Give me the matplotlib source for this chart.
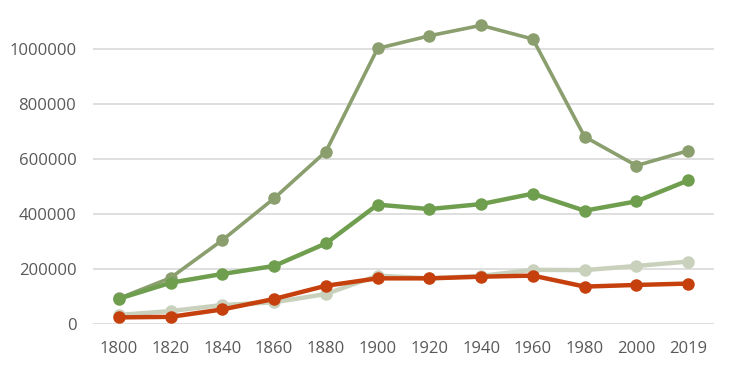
import matplotlib
matplotlib.use("Agg")
import matplotlib.pyplot as plt

years = ["1800", "1820", "1840", "1860", "1880", "1900", "1920", "1940", "1960", "1980", "2000", "2019"]
series_a = [93000, 168000, 305000, 457000, 627000, 1002000, 1048000, 1086000, 1036000, 681000, 576000, 630000]
series_b = [92000, 150000, 182000, 211000, 293000, 434000, 418000, 436000, 474000, 412000, 446000, 522000]
series_c = [33000, 47000, 69000, 79000, 109000, 176000, 166000, 175000, 197000, 196000, 211000, 227000]
series_d = [24000, 26000, 53000, 91000, 139000, 166000, 166000, 172000, 176000, 136000, 142000, 147000]
yticks = [0, 200000, 400000, 600000, 800000, 1000000]

plt.rcParams['font.family'] = ['Open Sans', 'DejaVu Sans']

W, H = 733, 376
fig = plt.figure(figsize=(W / 100, H / 100), dpi=100)
ymax = 1140000
px_per = 275 / 1e6
ax_h = ymax * px_per
ax = fig.add_axes([93 / W, 52 / H, (714 - 93) / W, ax_h / H])

x = list(range(len(years)))
styles = [
    (series_a, "#8A9E6E", 2.6),
    (series_b, "#6F9E4F", 3.2),
    (series_c, "#C9D1BD", 3.2),
    (series_d, "#C5400D", 3.2),
]
for vals, col, lw in styles:
    ax.plot(x, vals, color=col, lw=lw, marker="o", markersize=9,
            markeredgewidth=0, solid_capstyle="round", zorder=3)

ax.set_xlim(-0.5, len(years) - 0.5)
ax.set_ylim(0, ymax)
ax.set_yticks(yticks)
ax.set_yticklabels([str(v) for v in yticks])
ax.set_xticks(x)
ax.set_xticklabels(years)
ax.grid(axis="y", color="#D9D9D9", lw=1.2, zorder=0)
ax.set_axisbelow(True)
for s in ax.spines.values():
    s.set_visible(False)
ax.tick_params(axis="both", length=0, labelsize=12, labelcolor="#595959")
ax.tick_params(axis="y", pad=12)
ax.tick_params(axis="x", pad=12)

fig.savefig("out.png", dpi=100)
